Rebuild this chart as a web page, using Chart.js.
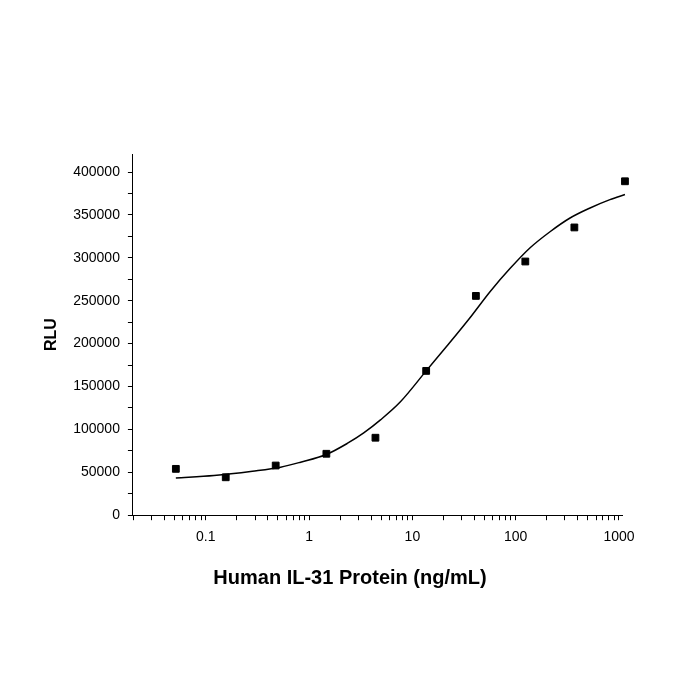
<!DOCTYPE html>
<html>
<head>
<meta charset="utf-8">
<script src="https://cdn.jsdelivr.net/npm/chart.js@4/dist/chart.umd.min.js"></script>
<style>
html, body { margin: 0; padding: 0; background: #fff; }
</style>
</head>
<body>
<canvas id="doseChart" width="700" height="700"></canvas>
<script>
// measured points, ng/mL vs RLU
const doseNgMl = [0.0513, 0.156, 0.475, 1.47, 4.39, 13.6, 41.2, 124, 370, 1143];
const rlu = [54000, 44200, 57900, 71600, 90300, 168200, 255600, 295700, 335400, 389200];

// fitted curve
const fitDose = [0.0513, 0.12, 0.283, 0.53, 0.828, 1.47, 2.34, 3.38, 4.91, 7.66, 13.6,
                 21.6, 35.8, 56.7, 88.5, 138, 215, 336, 525, 818, 1143];
const fitRlu = [43500, 46200, 51200, 55900, 61800, 70800, 83600, 95900, 111100, 132200, 168200,
                197100, 229500, 260800, 287700, 311700, 330400, 346400, 358100, 367800, 373700];

// axis ticks
const xDecades = [0.1, 1, 10, 100, 1000];
const yTicks = [0, 25000, 50000, 75000, 100000, 125000, 150000, 175000, 200000,
                225000, 250000, 275000, 300000, 325000, 350000, 375000, 400000];
const yLabelStep = 50000;
const xTitle = 'Human IL-31 Protein (ng/mL)';

const xMin = 0.0197, xMax = 1070;

// minor ticks 2..9 in every decade, plus the decades themselves
const xTicks = [];
[0.01, 0.1, 1, 10, 100].forEach(d => {
    for (let k = 1; k <= 9; k++) {
        const v = Number((d * k).toPrecision(6));
        if (v >= xMin && v <= xMax) xTicks.push(v);
    }
});
xTicks.push(1000);

const fontFamily = 'Liberation Sans, Arial, sans-serif';
const tickFont = { family: fontFamily, size: 14 };

// x title is centred on the page, not on the axis
const xTitlePlugin = {
    id: 'xTitle',
    afterDraw(chart) {
        const ctx = chart.ctx;
        ctx.save();
        ctx.font = 'bold 20px ' + fontFamily;
        ctx.fillStyle = '#000';
        ctx.textAlign = 'center';
        ctx.textBaseline = 'alphabetic';
        ctx.fillText(xTitle, chart.width / 2, chart.chartArea.bottom + 69);
        ctx.restore();
    }
};

new Chart(document.getElementById('doseChart'), {
    type: 'scatter',
    data: {
        datasets: [{
            label: 'RLU',
            data: doseNgMl.map((x, i) => ({ x: x, y: rlu[i] })),
            pointStyle: 'rect',
            pointRadius: 4.8,
            pointBorderWidth: 1,
            backgroundColor: '#000',
            borderColor: '#000',
            clip: false,
            order: 0
        }, {
            label: 'Fit',
            data: fitDose.map((x, i) => ({ x: x, y: fitRlu[i] })),
            showLine: true,
            borderColor: '#000',
            borderWidth: 1.5,
            pointRadius: 0,
            cubicInterpolationMode: 'monotone',
            clip: false,
            order: 1
        }]
    },
    options: {
        responsive: false,
        animation: false,
        devicePixelRatio: 1,
        layout: {
            padding: { top: 154, left: 34, right: 78, bottom: 145 }
        },
        plugins: {
            legend: { display: false },
            tooltip: { enabled: false }
        },
        scales: {
            x: {
                type: 'logarithmic',
                min: xMin,
                max: xMax,
                afterBuildTicks: scale => {
                    scale.ticks = xTicks.map(v => ({ value: v }));
                },
                ticks: {
                    autoSkip: false,
                    maxRotation: 0,
                    color: '#000',
                    font: tickFont,
                    padding: 9,
                    callback: v => xDecades.includes(v) ? String(v) : ''
                },
                grid: { drawOnChartArea: false, tickLength: 5, tickColor: '#000' },
                border: { color: '#000', width: 1 }
            },
            y: {
                min: 0,
                max: 421000,
                afterBuildTicks: scale => {
                    scale.ticks = yTicks.map(v => ({ value: v }));
                },
                ticks: {
                    autoSkip: false,
                    color: '#000',
                    font: tickFont,
                    padding: 8,
                    callback: v => v % yLabelStep === 0 ? String(v) : ''
                },
                grid: { drawOnChartArea: false, tickLength: 5, tickColor: '#000' },
                border: { color: '#000', width: 1 },
                title: {
                    display: true,
                    text: 'RLU',
                    color: '#000',
                    font: { family: fontFamily, size: 16, weight: 'bold' },
                    padding: { top: 8, bottom: 4 }
                }
            }
        }
    },
    plugins: [xTitlePlugin]
});
</script>
</body>
</html>
